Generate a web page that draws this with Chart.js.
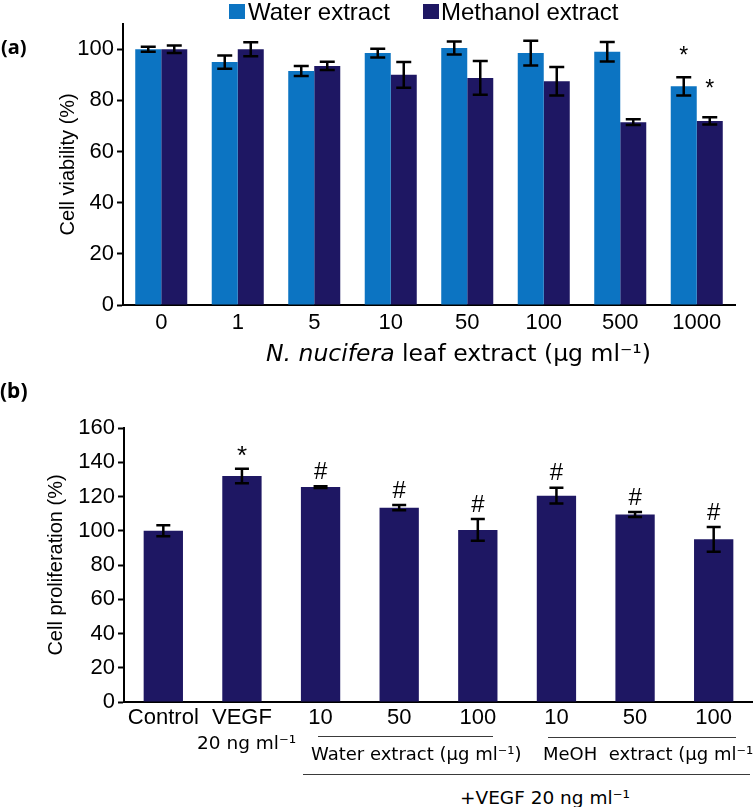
<!DOCTYPE html>
<html>
<head>
<meta charset="utf-8">
<script src="https://cdn.jsdelivr.net/npm/chart.js@4.4.1/dist/chart.umd.min.js"></script>
<style>
  html, body { margin:0; padding:0; background:#fff; }
  body { width:753px; height:807px; overflow:hidden; position:relative; }
  .lbl { position:absolute; white-space:pre; line-height:1; color:#000; }
  .rule { position:absolute; height:1.5px; background:#3a3a3a; }
</style>
</head>
<body>
<div id="panelA" style="position:absolute;left:0;top:0;width:753px;height:340px;"><canvas id="chartA"></canvas></div>
<div id="panelB" style="position:absolute;left:0;top:380px;width:753px;height:355px;"><canvas id="chartB"></canvas></div>
<script>
// ---------------- DATA ----------------
const concA      = ['0', '1', '5', '10', '50', '100', '500', '1000'];
const waterMean  = [100, 95, 91.5, 98.5, 100.5, 98.5, 99, 85.5];
const waterErr   = [1, 2.6, 2, 1.7, 2.5, 4.8, 3.8, 3.6];
const waterSig   = ['', '', '', '', '', '', '', '*'];
const methMean   = [100, 100, 93.5, 90, 88.8, 87.5, 71.5, 72];
const methErr    = [1.5, 2.7, 1.6, 5, 6.6, 5.6, 1.1, 1.4];
const methSig    = ['', '', '', '', '', '', '', '*'];
const yTicksA    = [0, 20, 40, 60, 80, 100];

const groupsB    = ['Control', 'VEGF', '10', '50', '100', '10', '50', '100'];
const prolifMean = [100, 132, 125.5, 113.5, 100.5, 120.5, 109.5, 95];
const prolifErr  = [3.2, 4.2, 0.5, 1.5, 6.3, 4.6, 1.5, 7.2];
const prolifSig  = ['', '*', '#', '#', '#', '#', '#', '#'];
const yTicksB    = [0, 20, 40, 60, 80, 100, 120, 140, 160];

// ---------------- STYLE ----------------
const WATER = '#0C74C2';
const METH  = '#1E1763';
const SANS  = "'Liberation Sans', Arial, sans-serif";
const VERD  = "'DejaVu Sans', Verdana, sans-serif";
Chart.defaults.font.family = SANS;
Chart.defaults.color = '#000';

function errorPlugin(sets, cfg) {
  return {
    id: 'errorBars',
    afterDatasetsDraw(chart) {
      const ctx = chart.ctx, ys = chart.scales.y;
      ctx.save();
      sets.forEach((set, di) => {
        const meta = chart.getDatasetMeta(di);
        meta.data.forEach((bar, i) => {
          const m = set.mean[i], e = set.err[i];
          const x = bar.x;
          const yt = ys.getPixelForValue(m + e), yb = ys.getPixelForValue(m - e);
          ctx.strokeStyle = '#000';
          ctx.lineWidth = cfg.lw;
          ctx.beginPath();
          ctx.moveTo(x, yt); ctx.lineTo(x, yb);
          ctx.moveTo(x - cfg.cap, yt); ctx.lineTo(x + cfg.cap, yt);
          ctx.moveTo(x - cfg.cap, yb); ctx.lineTo(x + cfg.cap, yb);
          ctx.stroke();
          const s = set.sig[i];
          if (s) {
            const fs = s === '*' ? cfg.starSize : cfg.hashSize;
            const off = s === '*' ? set.starOff : set.hashOff;
            const k = s === '*' ? 0.575 : 0.36;
            ctx.font = fs + 'px ' + SANS;
            ctx.fillStyle = '#000';
            ctx.textAlign = 'center';
            ctx.textBaseline = 'alphabetic';
            ctx.fillText(s, x, yt - off + k * fs);
          }
        });
      });
      ctx.restore();
    }
  };
}

// ---------------- PANEL A ----------------
new Chart(document.getElementById('chartA'), {
  type: 'bar',
  data: {
    labels: concA,
    datasets: [
      { label: 'Water extract', data: waterMean, backgroundColor: WATER },
      { label: 'Methanol extract', data: methMean, backgroundColor: METH }
    ]
  },
  options: {
    responsive: true, maintainAspectRatio: false, animation: false,
    layout: { padding: { top: 23.7, right: 18, left: 0, bottom: 0 } },
    plugins: { legend: { display: false }, tooltip: { enabled: false } },
    datasets: { bar: { categoryPercentage: 0.68, barPercentage: 1 } },
    scales: {
      x: {
        grid: { display: false, drawTicks: false },
        border: { display: true, color: '#000', width: 2 },
        ticks: { color: '#000', font: { size: 22 }, padding: 5 },
        afterFit(s) { s.height = 35; }
      },
      y: {
        min: 0, max: 110,
        grid: { drawOnChartArea: false, drawTicks: true, tickLength: 6, tickWidth: 2, tickColor: '#000' },
        border: { display: true, color: '#000', width: 2 },
        ticks: { color: '#000', font: { size: 22 }, padding: 3 },
        title: { display: true, text: 'Cell viability (%)', color: '#000', font: { size: 20 }, padding: { top: 56, bottom: 0 } },
        afterBuildTicks(s) { s.ticks = yTicksA.map(v => ({ value: v })); },
        afterFit(s) { s.width = 123; }
      }
    }
  },
  plugins: [errorPlugin([
    { mean: waterMean, err: waterErr, sig: waterSig, starOff: 27, hashOff: 16 },
    { mean: methMean, err: methErr, sig: methSig, starOff: 35, hashOff: 16 }
  ], { lw: 2.5, cap: 7.5, starSize: 23, hashSize: 22 })]
});

// ---------------- PANEL B ----------------
new Chart(document.getElementById('chartB'), {
  type: 'bar',
  data: {
    labels: groupsB,
    datasets: [{ label: 'Cell proliferation', data: prolifMean, backgroundColor: METH }]
  },
  options: {
    responsive: true, maintainAspectRatio: false, animation: false,
    layout: { padding: { top: 48, right: 0, left: 0, bottom: 0 } },
    plugins: { legend: { display: false }, tooltip: { enabled: false } },
    datasets: { bar: { categoryPercentage: 1, barPercentage: 0.5 } },
    scales: {
      x: {
        grid: { display: false, drawTicks: false },
        border: { display: true, color: '#000', width: 2 },
        ticks: { color: '#000', font: { size: 22 }, padding: 3 },
        afterFit(s) { s.height = 33; }
      },
      y: {
        min: 0, max: 160,
        grid: { drawOnChartArea: false, drawTicks: true, tickLength: 6, tickWidth: 2, tickColor: '#000' },
        border: { display: true, color: '#000', width: 2 },
        ticks: { color: '#000', font: { size: 22 }, padding: 3 },
        title: { display: true, text: 'Cell proliferation (%)', color: '#000', font: { size: 20 }, padding: { top: 44, bottom: 0 } },
        afterBuildTicks(s) { s.ticks = yTicksB.map(v => ({ value: v })); },
        afterFit(s) { s.width = 124; }
      }
    }
  },
  plugins: [errorPlugin([
    { mean: prolifMean, err: prolifErr, sig: prolifSig, starOff: 20, hashOff: 16 }
  ], { lw: 2.5, cap: 7, starSize: 26, hashSize: 24 })]
});

// ---------------- TEXT LABELS ----------------
function addLabel(parent, html, x, baseline, size, family, extra) {
  const d = document.createElement('div');
  d.className = 'lbl';
  d.innerHTML = html;
  const k = family === 'noto' ? 0.888 : 0.846;
  d.style.left = x + 'px';
  d.style.top = (baseline - k * size) + 'px';
  d.style.fontSize = size + 'px';
  d.style.fontFamily = family === 'noto' ? "'Noto Sans', sans-serif" : family;
  if (extra) Object.assign(d.style, extra);
  parent.appendChild(d);
  return d;
}
function addBox(parent, x, y, w, h, color) {
  const d = document.createElement('div');
  Object.assign(d.style, { position: 'absolute', left: x + 'px', top: y + 'px', width: w + 'px', height: h + 'px', background: color });
  parent.appendChild(d);
}
function addRule(x1, x2, y) {
  const d = document.createElement('div');
  d.className = 'rule';
  Object.assign(d.style, { left: x1 + 'px', top: y + 'px', width: (x2 - x1) + 'px' });
  document.body.appendChild(d);
}

const body = document.body;
// legend
addBox(body, 229, 4, 16, 15, WATER);
addLabel(body, 'Water extract', 248, 20.5, 24, SANS);
addBox(body, 423, 4, 16, 15, METH);
addLabel(body, 'Methanol extract', 441, 20.5, 24, SANS);
addLabel(body, '(a)', 1, 54.5, 20, 'noto', { fontWeight: 'bold' });
addLabel(body, '<i>N. nucifera</i> leaf extract (µg ml⁻¹)', 266, 362, 23.5, VERD);

addLabel(body, '(b)', 0, 398.5, 21, 'noto', { fontWeight: 'bold' });
addLabel(body, '20 ng ml⁻¹', 197, 750, 18.5, VERD);
addRule(318, 493, 735.5);
addRule(548, 736, 736.5);
addLabel(body, 'Water extract (µg ml⁻¹)', 311, 760, 18, VERD);
addLabel(body, 'MeOH  extract (µg ml⁻¹)', 543, 760, 18, VERD);
addRule(303, 750, 773.5);
addLabel(body, '+VEGF 20 ng ml⁻¹', 460, 804.3, 18.5, VERD);
</script>
</body>
</html>
